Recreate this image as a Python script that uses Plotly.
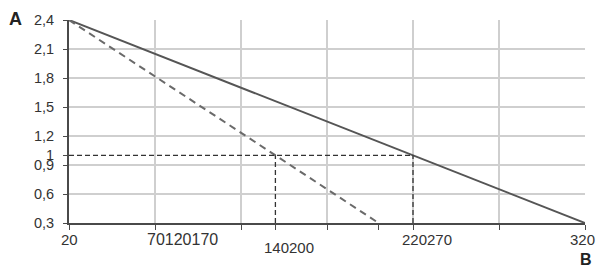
import plotly.graph_objects as go

# ---- data ----
solid_x = [20, 320]
solid_y = [2.4, 0.3]
dashed_x = [20, 200]
dashed_y = [2.4, 0.3]
level_y = 1.0
cross_x = [140, 220]          # where the two lines cross level 1
axis_min_y = 0.3

y_tickvals = [0.3, 0.6, 0.9, 1.0, 1.2, 1.5, 1.8, 2.1, 2.4]
y_ticktext = ["0,3", "0,6", "0,9", "1", "1,2", "1,5", "1,8", "2,1", "2,4"]
y_gridvals = [0.3, 0.6, 0.9, 1.2, 1.5, 1.8, 2.1, 2.4]

x_tickvals = [20, 70, 120, 140, 170, 200, 220, 270, 320]
x_gridvals = [20, 70, 120, 170, 220, 270, 320]
x_label_text = ["20", "70120170", "140200", "220270", "320"]
x_label_anchor = [20, 70, 140, 220, 320]   # tick where each label begins

LINE = "#555555"
GUIDE = "#333333"
GRID = "#cfcfcf"
AXIS = "#4a4a4a"
TXT = "#333333"
FONT = "Liberation Sans, Arial, sans-serif"

fig = go.Figure()

fig.add_trace(go.Scatter(x=solid_x, y=solid_y, mode="lines",
                         line=dict(color=LINE, width=2), hoverinfo="skip"))
fig.add_trace(go.Scatter(x=dashed_x, y=dashed_y, mode="lines",
                         line=dict(color="#6a6a6a", width=2, dash="7px,5px"),
                         hoverinfo="skip"))
# guide lines
fig.add_trace(go.Scatter(x=[solid_x[0], cross_x[1]], y=[level_y, level_y], mode="lines",
                         line=dict(color=GUIDE, width=1.3, dash="5px,3px"), hoverinfo="skip"))
for cx in cross_x:
    fig.add_trace(go.Scatter(x=[cx, cx], y=[axis_min_y, level_y], mode="lines",
                             line=dict(color=GUIDE, width=1.3, dash="5px,3px"),
                             hoverinfo="skip"))

# x tick labels (as drawn in the original, merged)
shifts = [0, -10, -13, -13, -3]
yshifts = [0, 0, -8, 0, 0]
anchors = ["center", "left", "left", "left", "center"]
sizes = [15, 16, 15, 15, 15]
for txt, ax, xs, ys, anc, sz in zip(x_label_text, x_label_anchor, shifts, yshifts, anchors, sizes):
    fig.add_annotation(x=ax, y=0, xref="x", yref="paper", text=txt, showarrow=False,
                       xanchor=anc, yanchor="top", xshift=xs, yshift=-6 + ys,
                       font=dict(family=FONT, size=sz, color=TXT))

# axis titles
fig.add_annotation(x=0, y=1, xref="paper", yref="paper", text="<b>A</b>", showarrow=False,
                   xanchor="center", yanchor="middle", xshift=-54, yshift=1,
                   font=dict(family=FONT, size=18, color="#222222"))
fig.add_annotation(x=1, y=0, xref="paper", yref="paper", text="<b>B</b>", showarrow=False,
                   xanchor="center", yanchor="bottom", xshift=1, yshift=-47,
                   font=dict(family=FONT, size=16, color="#222222"))

fig.update_layout(
    width=598, height=270,
    margin=dict(l=69, r=13, t=18, b=47),
    paper_bgcolor="white", plot_bgcolor="white",
    showlegend=False,
    font=dict(family=FONT, size=15, color=TXT),
    xaxis=dict(range=[20, 320], tickmode="array", tickvals=x_tickvals,
               showticklabels=False, ticks="outside", ticklen=5, tickwidth=1.2,
               tickcolor=AXIS, showgrid=False, zeroline=False,
               showline=True, linecolor=AXIS, linewidth=1.8,
               minor=dict(tickmode="array", tickvals=x_gridvals, showgrid=True,
                          gridcolor=GRID, gridwidth=1.6, ticks="")),
    yaxis=dict(range=[0.3, 2.4], tickmode="array", tickvals=y_tickvals,
               ticktext=y_ticktext, ticks="outside", ticklen=4, tickwidth=1.2,
               tickcolor=AXIS, showgrid=False, zeroline=False,
               showline=True, linecolor=AXIS, linewidth=1.8,
               ticklabelstandoff=6,
               tickfont=dict(family=FONT, size=14.5, color=TXT),
               minor=dict(tickmode="array", tickvals=y_gridvals, showgrid=True,
                          gridcolor=GRID, gridwidth=1.6, ticks="")),
)

fig.write_html("out.html")
